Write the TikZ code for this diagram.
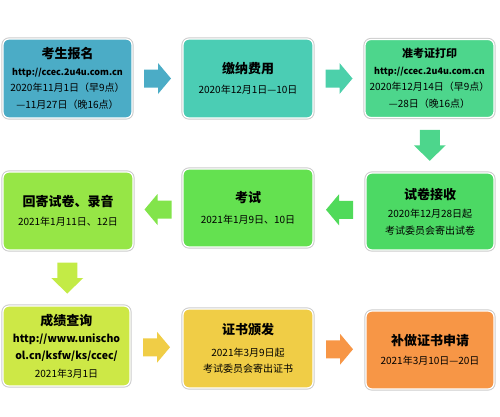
\documentclass[tikz,border=0pt]{standalone}
\usepackage{fontspec}
\setmainfont{Noto Sans CJK SC}
\usetikzlibrary{calc}
\definecolor{cA}{HTML}{4BACC6}
\definecolor{cB}{HTML}{4BCDB4}
\definecolor{cC}{HTML}{4DD68C}
\definecolor{cD}{HTML}{4CD964}
\definecolor{cE}{HTML}{64E150}
\definecolor{cF}{HTML}{96E646}
\definecolor{cG}{HTML}{CDE846}
\definecolor{cH}{HTML}{F0CD46}
\definecolor{cI}{HTML}{F79646}
\definecolor{aB}{HTML}{4CD0AA}
\definecolor{aD}{HTML}{50DA5A}
\definecolor{aE}{HTML}{82E44B}
\definecolor{aF}{HTML}{C3EB46}
\newcommand\ttl[1]{{\fontsize{13}{16}\selectfont\bfseries #1}}
\newcommand\sml[1]{{\fontsize{11}{16}\selectfont\bfseries #1}}
\newcommand\url[1]{{\fontsize{9}{16}\selectfont\bfseries #1}}
% horizontal block arrow (pointing +x), drawn at coordinate #1, rotated #2
\newcommand\harrow[3]{\fill[#3, shift={(#1)}, rotate=#2]
  (-13.5,-9) -- (0.5,-9) -- (0.5,-15.5) -- (13.5,0) -- (0.5,15.5) -- (0.5,9) -- (-13.5,9) -- cycle;}
\newcommand\varrow[3]{\fill[#3, shift={(#1)}, rotate=#2]
  (-15.5,-10) -- (0,-10) -- (0,-16) -- (15.5,0) -- (0,16) -- (0,10) -- (-15.5,10) -- cycle;}
\begin{document}
\begin{tikzpicture}[x=1pt,y=-1pt,
  box/.style={rounded corners=6pt, draw=white, line width=1.2pt,
    preaction={draw=black!20, line width=3.2pt}, align=center,
    inner sep=0pt, text=black, font=\fontsize{10}{16.5}\selectfont}]
\useasboundingbox (0,0) rectangle (500,416);
% row 1
\node[box, fill=cA, minimum width=129pt, minimum height=79pt] (b1) at (67.5,78.5)
  {\ttl{考生报名}\\ \url{http://ccec.2u4u.com.cn}\\ 2020年11月1日（早9点）\\ —11月27日（晚16点）};
\node[box, fill=cB, minimum width=130pt, minimum height=79pt] (b2) at (248,78.5)
  {\ttl{缴纳费用}\\[4pt] 2020年12月1日—10日};
\node[box, fill=cC, minimum width=129pt, minimum height=78pt] (b3) at (429.5,78.5)
  {\sml{准考证打印}\\ \url{http://ccec.2u4u.com.cn}\\ 2020年12月14日（早9点）\\ —28日（晚16点）};
% row 2
\node[box, fill=cD, minimum width=128pt, minimum height=77pt] (b4) at (430,211.5)
  {\ttl{试卷接收}\\[2pt] 2020年12月28日起\\ 考试委员会寄出试卷};
\node[box, fill=cE, minimum width=130pt, minimum height=78pt] (b5) at (248,208)
  {\ttl{考试}\\[4pt] 2021年1月9日、10日};
\node[box, fill=cF, minimum width=130pt, minimum height=78pt] (b6) at (68,211)
  {\ttl{回寄试卷、录音}\\[3pt] 2021年1月11日、12日};
% row 3
\node[box, fill=cG, minimum width=127pt, minimum height=80pt] (b7) at (66.5,346)
  {\ttl{成绩查询}\\[1pt] {\fontsize{10.5}{17}\selectfont\bfseries http://www.unischo}\\ {\fontsize{10.5}{17}\selectfont\bfseries ol.cn/ksfw/ks/ccec/}\\[2pt] 2021年3月1日};
\node[box, fill=cH, minimum width=130pt, minimum height=79pt] (b8) at (248,348.5)
  {\ttl{证书颁发}\\[5pt] 2021年3月9日起\\ 考试委员会寄出证书};
\node[box, fill=cI, minimum width=128pt, minimum height=78pt] (b9) at (430,350)
  {\ttl{补做证书申请}\\[3pt] 2021年3月10日—20日};
% arrow positions
\coordinate (m1) at ($(b1.east)!0.5!(b2.west)$);
\coordinate (m2) at ($(b2.east)!0.5!(b3.west)$);
\coordinate (m3) at ($(b3.south)!0.5!(b4.north)$);
\coordinate (m4) at ($(b4.west)!0.5!(b5.east)$);
\coordinate (m5) at ($(b5.west)!0.5!(b6.east)$);
\coordinate (m6) at ($(b6.south)!0.5!(b7.north)$);
\coordinate (m7) at ($(b7.east)!0.5!(b8.west)$);
\coordinate (m8) at ($(b8.east)!0.5!(b9.west)$);
\harrow{m1}{0}{cA}
\harrow{m2}{0}{aB}
\varrow{m3}{-90}{cC}
\harrow{m4}{180}{aD}
\harrow{m5}{180}{aE}
\varrow{m6}{-90}{aF}
\harrow{m7}{0}{cH}
\harrow{m8}{0}{cI}
\end{tikzpicture}
\end{document}
